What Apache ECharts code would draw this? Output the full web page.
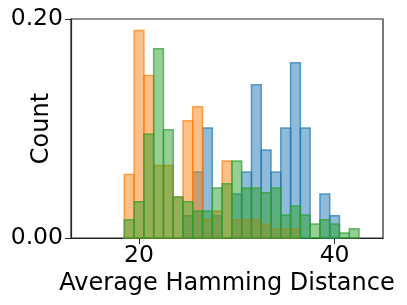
<!DOCTYPE html>
<html>
<head>
<meta charset="utf-8">
<script src="https://cdn.jsdelivr.net/npm/echarts@6/dist/echarts.min.js"></script>
<style>html,body{margin:0;padding:0;background:#fff}#c{width:407px;height:305px}</style>
</head>
<body>
<div id="c"></div>
<script>
// Bin centers (bin width 1)
const binCenters = [15,16,17,18,19,20,21,22,23,24,25,26,27,28,29,30,31,32,33,34,35,36,37,38,39,40,41,42,43];
const binWidth = 1;
const blueVals =   [0,0,0,0,0,0,0,0,0,0,0.0204,0.0603,0.1005,0.0204,0,0.0402,0.0603,0.14,0.0804,0.0603,0.1005,0.1601,0.1005,0,0.0402,0.0204,0,0,0];
const orangeVals = [0,0,0,0,0.0581,0.1896,0.1485,0.0663,0.0663,0.0374,0.1071,0.1199,0.0167,0.0247,0.0703,0.0167,0.0167,0.0167,0.0125,0.0083,0.0083,0.0083,0,0,0,0,0,0,0];
const greenVals =  [0,0,0,0,0.0167,0.0332,0.095,0.1729,0.0989,0.0374,0.0332,0.0247,0.0247,0.0457,0.0496,0.0703,0.0457,0.0457,0.0414,0.0457,0.021,0.0292,0.021,0.0128,0.0167,0.0128,0.0046,0.0085,0];
const xTicks = [20, 40];
const yTicks = [0, 0.2];
const xLabel = 'Average Hamming Distance';
const yLabel = 'Count';

const colors = {
  blue: ['rgba(31,119,180,0.5)', 'rgba(31,119,180,0.7)'],
  orange: ['rgba(255,127,14,0.5)', 'rgba(255,127,14,0.7)'],
  green: ['rgba(44,160,44,0.5)', 'rgba(44,160,44,0.7)']
};

function mkSeries(name, vals, col) {
  return {
    type: 'custom',
    name: name,
    data: binCenters.map((c, i) => [c, vals[i]]).filter(d => d[1] > 0),
    renderItem: function (params, api) {
      const x = api.value(0), y = api.value(1);
      const p0 = api.coord([x - binWidth / 2, y]);
      const p1 = api.coord([x + binWidth / 2, 0]);
      return {
        type: 'rect',
        shape: { x: p0[0], y: p0[1], width: p1[0] - p0[0], height: p1[1] - p0[1] },
        style: { fill: col[0], stroke: col[1], lineWidth: 1.5 }
      };
    }
  };
}

const chart = echarts.init(document.getElementById('c'), null, { renderer: 'canvas' });
const font = 'DejaVu Sans';
chart.setOption({
  animation: false,
  grid: { left: 71, right: 24, top: 19, bottom: 67, containLabel: false, outerBoundsMode: 'none', show: true, borderColor: '#262626', borderWidth: 1.2, backgroundColor: 'transparent' },
  xAxis: {
    type: 'value', min: 13.05, max: 44.95,
    name: xLabel, nameLocation: 'middle', nameGap: 34, nameMoveOverlap: false,
    nameTextStyle: { fontFamily: font, fontSize: 24, color: '#000' },
    axisLine: { show: true, lineStyle: { color: '#262626', width: 1.2 } },
    axisTick: { show: true, length: 6, customValues: xTicks, lineStyle: { color: '#262626' } },
    axisLabel: { customValues: xTicks, fontFamily: font, fontSize: 23.5, color: '#000', margin: 6 },
    splitLine: { show: false }
  },
  yAxis: {
    type: 'value', min: 0, max: 0.2,
    name: yLabel, nameLocation: 'middle', nameGap: 17, nameMoveOverlap: false,
    nameTextStyle: { fontFamily: font, fontSize: 24, color: '#000' },
    axisLine: { show: true, lineStyle: { color: '#262626', width: 1.2 } },
    axisTick: { show: true, length: 6, customValues: yTicks, lineStyle: { color: '#262626' } },
    axisLabel: { customValues: yTicks, fontFamily: font, fontSize: 23.5, color: '#000', margin: 8, formatter: v => v.toFixed(2) },
    splitLine: { show: false }
  },
  series: [
    mkSeries('blue', blueVals, colors.blue),
    mkSeries('orange', orangeVals, colors.orange),
    mkSeries('green', greenVals, colors.green)
  ]
});
</script>
</body>
</html>
